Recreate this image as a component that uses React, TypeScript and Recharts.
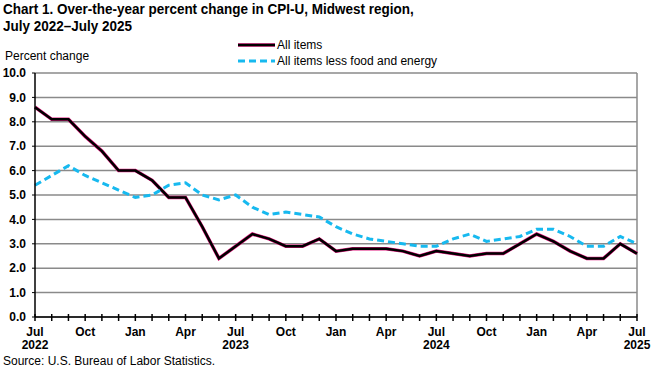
import React from "react";
import {
  CartesianGrid,
  Line,
  LineChart,
  ReferenceLine,
  XAxis,
  YAxis,
} from "recharts";

const months = [
  "Jul 2022", "Aug 2022", "Sep 2022", "Oct 2022", "Nov 2022", "Dec 2022",
  "Jan 2023", "Feb 2023", "Mar 2023", "Apr 2023", "May 2023", "Jun 2023",
  "Jul 2023", "Aug 2023", "Sep 2023", "Oct 2023", "Nov 2023", "Dec 2023",
  "Jan 2024", "Feb 2024", "Mar 2024", "Apr 2024", "May 2024", "Jun 2024",
  "Jul 2024", "Aug 2024", "Sep 2024", "Oct 2024", "Nov 2024", "Dec 2024",
  "Jan 2025", "Feb 2025", "Mar 2025", "Apr 2025", "May 2025", "Jun 2025",
  "Jul 2025",
];

const allItems = [
  8.6, 8.1, 8.1, 7.4, 6.8, 6.0,
  6.0, 5.6, 4.9, 4.9, 3.7, 2.4,
  2.9, 3.4, 3.2, 2.9, 2.9, 3.2,
  2.7, 2.8, 2.8, 2.8, 2.7, 2.5,
  2.7, 2.6, 2.5, 2.6, 2.6, 3.0,
  3.4, 3.1, 2.7, 2.4, 2.4, 3.0,
  2.6,
];

const lessFoodEnergy = [
  5.4, 5.8, 6.2, 5.8, 5.5, 5.2,
  4.9, 5.0, 5.4, 5.5, 5.0, 4.8,
  5.0, 4.5, 4.2, 4.3, 4.2, 4.1,
  3.7, 3.4, 3.2, 3.1, 3.0, 2.9,
  2.9, 3.2, 3.4, 3.1, 3.2, 3.3,
  3.6, 3.6, 3.3, 2.9, 2.9, 3.3,
  3.0,
];

const yTicks = [0, 1, 2, 3, 4, 5, 6, 7, 8, 9, 10];
const labelMonths = ["Jul", "Oct", "Jan", "Apr"];

const data = months.map((m, i) => ({
  i,
  month: m,
  all: allItems[i],
  core: lessFoodEnergy[i],
}));

const FONT = "'Liberation Sans', Arial, sans-serif";
const PINK = "#e0167c";
const BLUE = "#17b9ef";

const MonthTick = (props: any) => {
  const { x, y, payload } = props;
  const [mon, year] = months[payload.value].split(" ");
  const showMon = labelMonths.includes(mon);
  return (
    <g>
      <line x1={x} x2={x} y1={y - 3} y2={y + 4} stroke="#000" strokeWidth={1.5} />
      {showMon && (
        <text x={x} y={y + 19} textAnchor="middle" fontSize={12} fontWeight="bold" fill="#000" fontFamily={FONT}>
          {mon}
        </text>
      )}
      {mon === "Jul" && (
        <text x={x} y={y + 32} textAnchor="middle" fontSize={12} fontWeight="bold" fill="#000" fontFamily={FONT}>
          {year}
        </text>
      )}
    </g>
  );
};

const App = () => {
  return (
    <div
      style={{
        position: "absolute",
        left: 0,
        top: 0,
        width: 660,
        height: 369,
        background: "#fff",
        fontFamily: FONT,
        color: "#000",
      }}
    >
      <div
        style={{
          position: "absolute",
          left: 3,
          top: 1,
          fontSize: 14.5,
          fontWeight: "bold",
          lineHeight: "17px",
          whiteSpace: "nowrap",
          transform: "scaleX(0.93)",
          transformOrigin: "left top",
        }}
      >
        Chart 1. Over-the-year percent change in CPI-U, Midwest region,
        <br />
        July 2022–July 2025
      </div>
      <div style={{ position: "absolute", left: 5, top: 49, fontSize: 12 }}>Percent change</div>
      <div style={{ position: "absolute", left: 237, top: 37, fontSize: 12, lineHeight: "16px" }}>
        <div style={{ display: "flex", alignItems: "center" }}>
          <svg width={40} height={16}>
            <line x1={1} x2={38} y1={8} y2={8} stroke={PINK} strokeWidth={3.5} />
            <line x1={1} x2={38} y1={8} y2={8} stroke="#000" strokeWidth={2.5} />
          </svg>
          <span>All items</span>
        </div>
        <div style={{ display: "flex", alignItems: "center" }}>
          <svg width={40} height={16}>
            <line x1={1} x2={38} y1={8} y2={8} stroke={BLUE} strokeWidth={3} strokeDasharray="7 4" />
          </svg>
          <span>All items less food and energy</span>
        </div>
      </div>
      <div style={{ position: "absolute", left: 3, top: 355, fontSize: 12, lineHeight: "13px" }}>
        Source: U.S. Bureau of Labor Statistics.
      </div>
      <LineChart
        width={660}
        height={369}
        data={data}
        margin={{ top: 73, right: 23, bottom: 0, left: 0 }}
        style={{ position: "absolute", left: 0, top: 0 }}
      >
        <CartesianGrid horizontal vertical={false} stroke="#8a8a8a" strokeWidth={1.5} />
        <XAxis
          type="number"
          dataKey="i"
          domain={[0, 36]}
          ticks={months.map((_, i) => i)}
          interval={0}
          height={52}
          tickSize={0}
          tickMargin={0}
          tickLine={false}
          tick={<MonthTick />}
          axisLine={{ stroke: "#000", strokeWidth: 1.5 }}
        />
        <YAxis
          domain={[0, 10]}
          ticks={yTicks}
          interval={0}
          width={35}
          tickSize={3}
          tickMargin={6}
          tickFormatter={(v: number) => v.toFixed(1)}
          tick={{ fontSize: 12, fontWeight: "bold", fill: "#000", fontFamily: FONT }}
          tickLine={{ stroke: "#000" }}
          axisLine={{ stroke: "#000", strokeWidth: 1.5 }}
        />
        <ReferenceLine x={36} stroke="#8a8a8a" strokeWidth={1.5} />
        <Line dataKey="all" stroke={PINK} strokeWidth={3.5} dot={false} isAnimationActive={false} />
        <Line dataKey="all" stroke="#000" strokeWidth={2.5} dot={false} isAnimationActive={false} />
        <Line
          dataKey="core"
          stroke={BLUE}
          strokeWidth={3}
          strokeDasharray="7 4"
          dot={false}
          isAnimationActive={false}
        />
      </LineChart>
    </div>
  );
};

export default App;
